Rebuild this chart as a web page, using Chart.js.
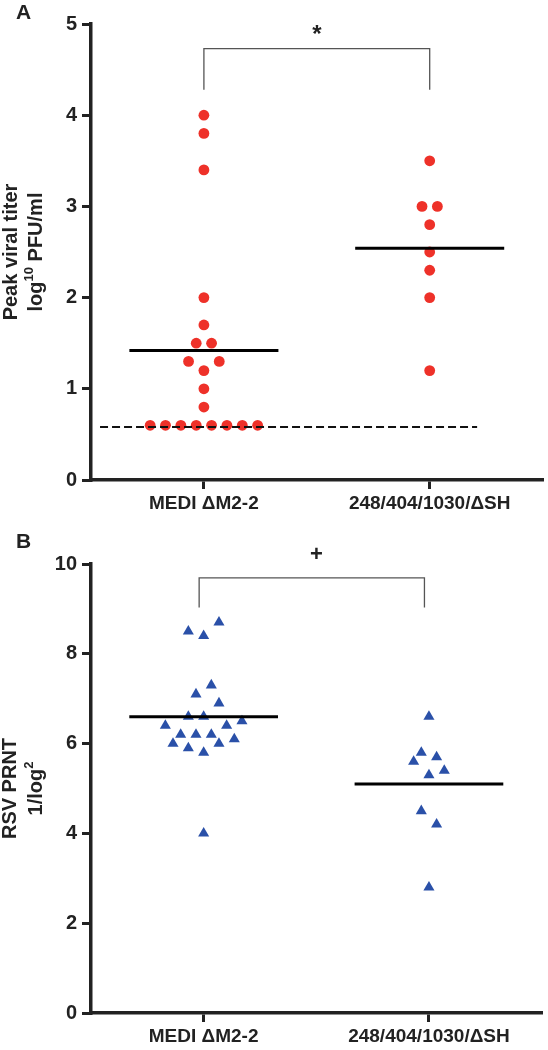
<!DOCTYPE html>
<html>
<head>
<meta charset="utf-8">
<script src="https://cdn.jsdelivr.net/npm/chart.js@4"></script>
<style>
  body { margin: 0; background: #fff; }
  .panel { position: relative; width: 548px; }
  canvas { display: block; }
</style>
</head>
<body>
<div class="panel" style="height:520px"><canvas id="titerChart" width="548" height="520"></canvas></div>
<div class="panel" style="height:530px"><canvas id="prntChart" width="548" height="530"></canvas></div>
<script>
// ========= DATA =================== //
const categories = ["MEDI \u0394M2-2", "248/404/1030/\u0394SH"];

// panel A - peak viral titer (log10 PFU/ml)
const titerMedi = [4.0, 3.8, 3.4, 2.0, 1.7, 1.5, 1.5, 1.3, 1.3, 1.2, 1.0, 0.8,
  0.6, 0.6, 0.6, 0.6, 0.6, 0.6, 0.6, 0.6];
const titerMediSlot = [0, 0, 0, 0, 0, -1, 1, -2, 2, 0, 0, 0, -7, -5, -3, -1, 1, 3, 5, 7];
const titer248 = [3.5, 3.0, 3.0, 2.8, 2.5, 2.3, 2.0, 1.2];
const titer248Slot = [0, -1, 1, 0, 0, 0, 0, 0];
const titerMeans = [1.42, 2.54];
const detectionLimit = 0.58;
const titerTicks = [0, 1, 2, 3, 4, 5];
const titerBracket = [4.28, 4.73];

// panel B - RSV PRNT (1/log2)
const prntMedi = [8.5, 8.4, 8.7, 7.3, 7.1, 6.9, 6.6, 6.6, 6.4, 6.4, 6.5,
  6.2, 6.2, 6.2, 6.0, 6.0, 6.1, 5.9, 5.8, 4.0];
const prntMediSlot = [-2, 0, 2, 1, -1, 2, -2, 0, -5, 3, 5, -3, -1, 1, -4, 2, 4, -2, 0, 0];
const prnt248 = [6.6, 5.8, 5.7, 5.6, 5.4, 5.3, 4.5, 4.2, 2.8];
const prnt248Slot = [0, -1, 1, -2, 2, 0, -1, 1, 0];
const prntMeans = [6.6, 5.1];
const prntTicks = [0, 2, 4, 6, 8, 10];
const prntBracket = [9.03, 9.69];

// ========= STYLE =================== //
const FONT = "'Liberation Sans', Arial, sans-serif";
const SLOT = 0.034;   // horizontal step between jittered points
const MEAN_HALF = 0.33;

function points(values, slots, cat) {
  return values.map((v, i) => ({ x: cat + slots[i] * SLOT, y: v }));
}

function hline(y, x0, x1) {
  return [{ x: x0, y: y }, { x: x1, y: y }];
}

// y-axis title with superscript, significance mark and panel letter
const decorPlugin = {
  id: "decor",
  afterDraw(chart, args, opts) {
    const ctx = chart.ctx;
    const area = chart.chartArea;
    const cy = (area.top + area.bottom) / 2;
    ctx.save();
    ctx.fillStyle = "#222";
    // panel letter
    ctx.font = "bold 21px " + FONT;
    ctx.textAlign = "left";
    ctx.textBaseline = "middle";
    ctx.fillText(opts.letter, 16, opts.letterY);
    // significance mark
    const xs = chart.scales.x;
    const ys = chart.scales.y;
    ctx.font = opts.markFont;
    ctx.textAlign = "center";
    ctx.fillText(opts.mark, xs.getPixelForValue(0.5), ys.getPixelForValue(opts.markY));
    // rotated title
    ctx.translate(0, cy);
    ctx.rotate(-Math.PI / 2);
    opts.title.forEach((line, li) => {
      const x = opts.titleX[li];
      let w = 0;
      line.forEach(seg => {
        ctx.font = seg.sup ? "bold 13px " + FONT : "bold 20px " + FONT;
        w += ctx.measureText(seg.t).width;
      });
      let pos = -w / 2;
      line.forEach(seg => {
        ctx.font = seg.sup ? "bold 13px " + FONT : "bold 20px " + FONT;
        ctx.textAlign = "left";
        ctx.textBaseline = "middle";
        ctx.fillText(seg.t, pos, x + (seg.sup ? -7 : 0));
        pos += ctx.measureText(seg.t).width;
      });
    });
    ctx.restore();
  },
};

function makeChart(id, cfg) {
  const datasets = [
    {
      type: "line", label: "bracket", order: 0,
      data: [
        { x: cfg.bracketX[0], y: cfg.bracket[0] }, { x: cfg.bracketX[0], y: cfg.bracket[1] },
        { x: cfg.bracketX[1], y: cfg.bracket[1] }, { x: cfg.bracketX[1], y: cfg.bracket[0] },
      ],
      borderColor: "#555", borderWidth: 1.3, pointRadius: 0, fill: false, tension: 0,
    },
    {
      type: "line", label: "mean0", order: 1,
      data: hline(cfg.means[0], -MEAN_HALF, MEAN_HALF),
      borderColor: "#000", borderWidth: 3, pointRadius: 0,
    },
    {
      type: "line", label: "mean1", order: 1,
      data: hline(cfg.means[1], 1 - MEAN_HALF, 1 + MEAN_HALF),
      borderColor: "#000", borderWidth: 3, pointRadius: 0,
    },
    {
      type: "scatter", label: categories[0], order: 3,
      data: points(cfg.g0, cfg.s0, 0),
      pointStyle: cfg.pointStyle, pointRadius: cfg.radius,
      backgroundColor: cfg.color, borderColor: cfg.color, borderWidth: 0,
    },
    {
      type: "scatter", label: categories[1], order: 3,
      data: points(cfg.g1, cfg.s1, 1),
      pointStyle: cfg.pointStyle, pointRadius: cfg.radius,
      backgroundColor: cfg.color, borderColor: cfg.color, borderWidth: 0,
    },
  ];
  if (cfg.limit !== undefined) {
    datasets.push({
      type: "line", label: "limit", order: 2,
      data: hline(cfg.limit, -0.46, 1.21),
      borderColor: "#111", borderWidth: 2, borderDash: [8, 4], pointRadius: 0,
    });
  }
  datasets.forEach(d => { d.clip = false; });

  return new Chart(document.getElementById(id).getContext("2d"), {
    type: "scatter",
    data: { datasets: datasets },
    plugins: [decorPlugin],
    options: {
      responsive: false,
      animation: false,
      events: [],
      layout: { padding: { top: cfg.top, right: 0, left: 0, bottom: 0 } },
      plugins: {
        legend: { display: false },
        tooltip: { enabled: false },
        decor: cfg.decor,
      },
      scales: {
        x: {
          type: "linear", min: -0.5, max: 1.5,
          afterBuildTicks: s => { s.ticks = [{ value: 0 }, { value: 1 }]; },
          afterFit: s => { s.height = cfg.xHeight; },
          ticks: {
            callback: v => categories[v],
            font: { family: FONT, size: 19, weight: "bold" },
            color: "#222", padding: 3, maxRotation: 0, autoSkip: false,
          },
          grid: { drawOnChartArea: false, tickLength: 9, color: "#222", lineWidth: 3 },
          border: { color: "#222", width: 3.5 },
        },
        y: {
          type: "linear", min: cfg.yTicks[0], max: cfg.yTicks[cfg.yTicks.length - 1],
          afterBuildTicks: s => { s.ticks = cfg.yTicks.map(v => ({ value: v })); },
          afterFit: s => { s.width = 91; },
          ticks: {
            font: { family: FONT, size: 20, weight: "bold" },
            color: "#222", padding: 5,
          },
          grid: { drawOnChartArea: false, tickLength: 9, color: "#222", lineWidth: 3 },
          border: { color: "#222", width: 3.5 },
        },
      },
    },
  });
}

// ================= PANEL A ========================//
makeChart("titerChart", {
  g0: titerMedi, s0: titerMediSlot, g1: titer248, s1: titer248Slot,
  means: titerMeans, limit: detectionLimit, yTicks: titerTicks,
  bracket: titerBracket, bracketX: [0, 1],
  pointStyle: "circle", radius: 5.4, color: "#ee3129",
  top: 24, xHeight: 40,
  decor: {
    letter: "A", letterY: 13, mark: "*", markY: 4.88, markFont: "bold 24px " + FONT,
    title: [[{ t: "Peak viral titer" }], [{ t: "log" }, { t: "10", sup: true }, { t: " PFU/ml" }]],
    titleX: [11, 36],
  },
});

// ================= PANEL B ========================//
makeChart("prntChart", {
  g0: prntMedi, s0: prntMediSlot, g1: prnt248, s1: prnt248Slot,
  means: prntMeans, yTicks: prntTicks,
  bracket: prntBracket, bracketX: [-0.02, 0.98],
  pointStyle: "triangle", radius: 6.4, color: "#2a50a8",
  top: 44, xHeight: 37,
  decor: {
    letter: "B", letterY: 22, mark: "+", markY: 10.2, markFont: "bold 22px " + FONT,
    title: [[{ t: "RSV PRNT" }], [{ t: "1/log" }, { t: "2", sup: true }]],
    titleX: [10, 36],
  },
});
</script>
</body>
</html>
